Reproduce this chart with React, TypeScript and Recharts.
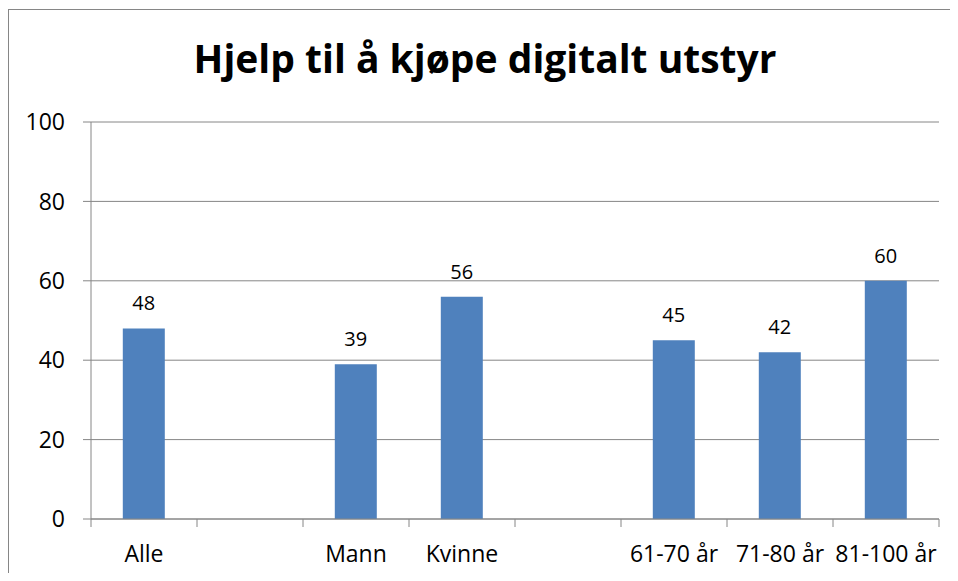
import { Bar, BarChart, CartesianGrid, LabelList, XAxis, YAxis } from "recharts";

const categories = ["Alle", "", "Mann", "Kvinne", "", "61-70 år", "71-80 år", "81-100 år"];
const values: (number | null)[] = [48, null, 39, 56, null, 45, 42, 60];
const yTicks = [0, 20, 40, 60, 80, 100];

const data = categories.map((name, i) => ({ name, value: values[i] }));

const font = "'Open Sans', 'Noto Sans', sans-serif";
const axisGray = "#868686";
const TICK = 8;
const MARGIN = 19;

// category label plus tick marks on the band edges, like Excel does
function EdgeTick(props: any) {
  const { x, y, payload, index, visibleTicksCount } = props;
  const half = payload?.offset ?? 0;
  const axisY = y - TICK - MARGIN;
  const last = index === visibleTicksCount - 1;
  return (
    <g>
      <line x1={x - half} x2={x - half} y1={axisY} y2={axisY + TICK} stroke={axisGray} />
      {last && <line x1={x + half} x2={x + half} y1={axisY} y2={axisY + TICK} stroke={axisGray} />}
      <text x={x} y={y} dy="0.71em" textAnchor="middle" fill="#000" fontSize={23} fontFamily={font}>
        {payload.value}
      </text>
    </g>
  );
}

export default function App() {
  return (
    <div style={{ position: "relative", width: 958, height: 581, margin: -8, overflow: "hidden", background: "#fff" }}>
      <div
        style={{
          position: "absolute",
          left: 8,
          top: 9,
          width: 980,
          height: 600,
          border: `1px solid ${axisGray}`,
          boxSizing: "border-box"
        }}
      />
      <div
        style={{
          position: "absolute",
          left: 0,
          width: 970,
          top: 33,
          textAlign: "center",
          fontFamily: font,
          fontWeight: 700,
          fontSize: 39,
          lineHeight: "50px",
          color: "#000"
        }}
      >
        Hjelp til å kjøpe digitalt utstyr
      </div>
      <BarChart
        width={958}
        height={581}
        data={data}
        margin={{ top: 122, right: 19, left: 0, bottom: 0 }}
        barCategoryGap="30%"
        style={{ position: "absolute", left: 0, top: 0 }}
      >
        <CartesianGrid vertical={false} stroke={axisGray} />
        <XAxis
          dataKey="name"
          height={62}
          axisLine={{ stroke: axisGray }}
          tickLine={false}
          interval={0}
          tickSize={TICK}
          tickMargin={MARGIN}
          tick={<EdgeTick />}
        />
        <YAxis
          domain={[0, 100]}
          ticks={yTicks}
          width={91}
          tickSize={8}
          tickMargin={18}
          stroke={axisGray}
          tickLine={{ stroke: axisGray }}
          axisLine={{ stroke: axisGray }}
          tick={{ fill: "#000", fontSize: 23, fontFamily: font }}
        />
        <Bar dataKey="value" fill="#4f81bd" isAnimationActive={false}>
          <LabelList dataKey="value" position="top" offset={18} fill="#000" fontSize={20} fontFamily={font} />
        </Bar>
      </BarChart>
    </div>
  );
}
